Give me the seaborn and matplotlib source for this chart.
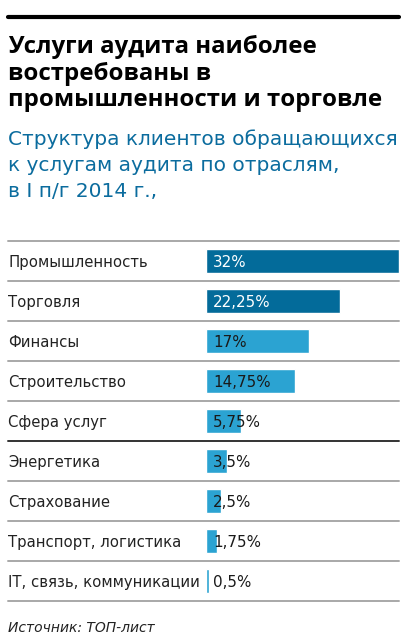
import numpy as np
import pandas as pd
import matplotlib.pyplot as plt
import seaborn as sns
from matplotlib.lines import Line2D

# data
categories = ["Промышленность", "Торговля", "Финансы", "Строительство", "Сфера услуг",
              "Энергетика", "Страхование", "Транспорт, логистика", "IT, связь, коммуникации"]
values = [32, 22.25, 17, 14.75, 5.75, 3.5, 2.5, 1.75, 0.5]
value_labels = ["32%", "22,25%", "17%", "14,75%", "5,75%", "3,5%", "2,5%", "1,75%", "0,5%"]
groups = ["top", "top", "rest", "rest", "rest", "rest", "rest", "rest", "rest"]

title_lines = ["Услуги аудита наиболее", "востребованы в", "промышленности и торговле"]
subtitle_lines = ["Структура клиентов обращающихся", "к услугам аудита по отраслям,", "в I п/г 2014 г.,"]
source = "Источник: ТОП-лист"

dark_blue = "#036b9a"
light_blue = "#2ba3d2"
sub_blue = "#0b6c9e"

df = pd.DataFrame({"cat": categories, "val": values, "grp": groups})

sns.set_theme(style="white")
plt.rcParams["font.family"] = ["DejaVu Sans"]

W, H = 416, 644
fig = plt.figure(figsize=(W / 100, H / 100), dpi=100)

def fx(px):
    return px / W

def fy(py):
    return 1 - py / H

# chart area: rows between y=240.7 and y=600.7 px, x from 8 to 399 px
ax = fig.add_axes([fx(8), fy(600.7), fx(391), 360 / H])
sns.barplot(data=df, x="val", y="cat", hue="grp", palette={"top": dark_blue, "rest": light_blue},
            width=0.6, orient="h", legend=False, ax=ax, saturation=1)

px_per_unit = 193 / 32
ax.set_xlim(-198 / px_per_unit, 32)
ax.set_ylim(8.5, -0.5)
ax.axis("off")

# separators
for i in range(10):
    y = i - 0.5
    col = "#333333" if i == 5 else "#a8a8a8"
    ax.axhline(y, color=col, lw=1.4, clip_on=False)

# labels
for i, (cat, lab, g) in enumerate(zip(categories, value_labels, groups)):
    ax.text(0, i, cat, transform=ax.get_yaxis_transform(), ha="left", va="center_baseline",
            fontsize=10.7, color="#222222")
    ax.text(7 / px_per_unit, i, lab, ha="left", va="center_baseline", fontsize=10.9,
            color="white" if g == "top" else "#1a1a1a")

# top rule
fig.add_artist(Line2D([fx(8), fx(399)], [fy(17), fy(17)], color="black", lw=3))

# title
for k, line in enumerate(title_lines):
    fig.text(fx(8), fy(53 + 26.7 * k), line, ha="left", va="baseline", fontsize=17.3,
             fontweight="bold", family="Open Sans", color="black")

# subtitle
for k, line in enumerate(subtitle_lines):
    fig.text(fx(8), fy(145 + 26 * k), line, ha="left", va="baseline", fontsize=14.5,
             color=sub_blue)

fig.text(fx(8), fy(632), source, ha="left", va="baseline", fontsize=10.0, style="italic",
         color="#222222")

fig.savefig("out.png", dpi=100)
